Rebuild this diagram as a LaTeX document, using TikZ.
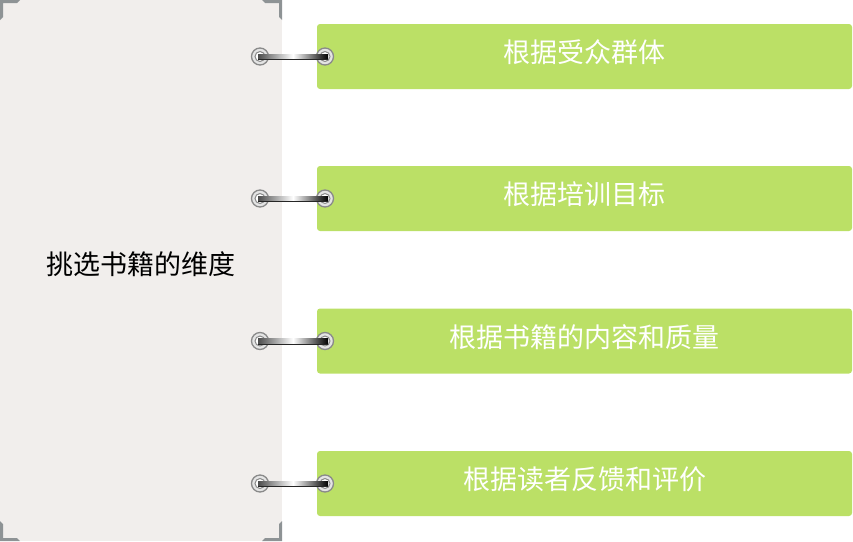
\documentclass[tikz,border=0pt]{standalone}
\usepackage{fontspec}
\newfontfamily\cjk{Noto Sans CJK SC}
\definecolor{panel}{HTML}{F1EEEC}
\definecolor{brk}{HTML}{8E9395}
\definecolor{boxg}{HTML}{BBE066}
\definecolor{ringg}{HTML}{8A8A8A}
\definecolor{ringf}{HTML}{E4E4E4}
\tikzset{
  gbox/.style={fill=boxg, draw=none, rounded corners=3pt},
  btxt/.style={text=white, font=\cjk\fontsize{27}{30}\selectfont, anchor=center},
  ringo/.style={circle, draw=ringg, line width=1.3pt, fill=ringf, minimum size=17pt, inner sep=0pt},
  ringi/.style={circle, draw=ringg, line width=1pt, fill=white, minimum size=10pt, inner sep=0pt},
  bar/.style={left color=black!70, right color=black, middle color=white, draw=none},
}
\begin{document}
\begin{tikzpicture}[x=1pt,y=-1pt]
\useasboundingbox (0,0) rectangle (853,541);
% left panel
\fill[panel] (0,0) rectangle (282,541);
% corner brackets
\fill[brk] (0,0) -- (20,0) -- (17,3) -- (3,3) -- (3,17) -- (0,20) -- cycle;
\fill[brk] (282,0) -- (262,0) -- (265,3) -- (279,3) -- (279,17) -- (282,20) -- cycle;
\fill[brk] (0,541) -- (20,541) -- (17,538) -- (3,538) -- (3,524) -- (0,521) -- cycle;
\fill[brk] (282,541) -- (262,541) -- (265,538) -- (279,538) -- (279,524) -- (282,521) -- cycle;
\node[font=\cjk\fontsize{27}{30}\selectfont, text=black] (main) at (141,264) {挑选书籍的维度};
% boxes
\foreach \i/\y/\t in {1/56.5/根据受众群体, 2/198.5/根据培训目标, 3/341/根据书籍的内容和质量, 4/483.5/根据读者反馈和评价}{
  \fill[gbox] (317,\y-32.5) rectangle (852,\y+32.5);
  \node[btxt] (t\i) at (584.5,\y-4) {\t};
  \node[ringo] (la\i) at (260,\y) {};
  \node[ringi] (lb\i) at (260,\y) {};
  \node[ringo] (ra\i) at (325,\y) {};
  \node[ringi] (rb\i) at (325,\y) {};
  \shade[bar] ([xshift=-2pt,yshift=-3pt]lb\i.center) rectangle ([xshift=3pt,yshift=2.5pt]rb\i.center);
  \draw[black!85, line width=0.8pt] ([xshift=-2pt,yshift=-3pt]lb\i.center) -- ([xshift=3pt,yshift=-3pt]rb\i.center);
}
\end{tikzpicture}
\end{document}
